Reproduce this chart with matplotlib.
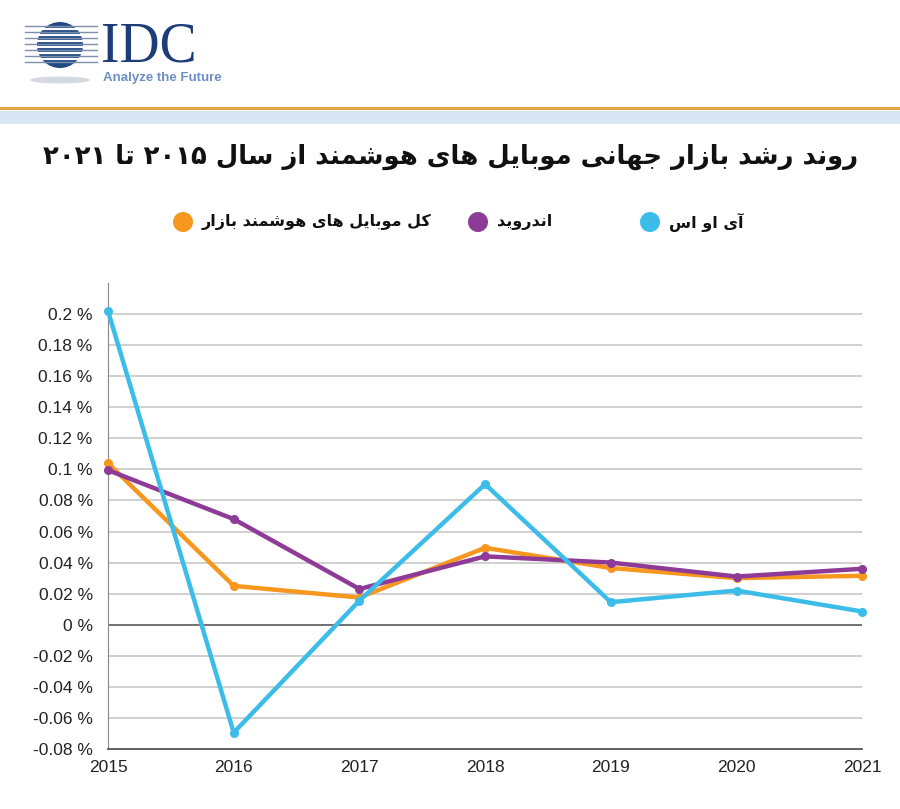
import re
import numpy as np
import matplotlib
matplotlib.use("Agg")
import matplotlib.pyplot as plt
from matplotlib.patches import Circle, Ellipse, Rectangle

years = [2015, 2016, 2017, 2018, 2019, 2020, 2021]
ios = [0.202, -0.0695, 0.0155, 0.0905, 0.0145, 0.022, 0.0085]
android = [0.0995, 0.068, 0.023, 0.044, 0.040, 0.031, 0.036]
total = [0.104, 0.025, 0.0175, 0.0495, 0.0365, 0.030, 0.0315]

title = "روند رشد بازار جهانی موبایل های هوشمند از سال ۲۰۱۵ تا ۲۰۲۱"
lbl_total = "کل موبایل های هوشمند بازار"
lbl_android = "اندروید"
lbl_ios = "آی او اس"

c_ios = "#3cbde9"
c_android = "#8e3a97"
c_total = "#f7971e"

# minimal persian shaping: (isolated, final, initial, medial)
FORMS = {
    "ا": ("\uFE8D", "\uFE8E", None, None),
    "آ": ("\uFE81", "\uFE82", None, None),
    "ب": ("\uFE8F", "\uFE90", "\uFE91", "\uFE92"),
    "ت": ("\uFE95", "\uFE96", "\uFE97", "\uFE98"),
    "ج": ("\uFE9D", "\uFE9E", "\uFE9F", "\uFEA0"),
    "د": ("\uFEA9", "\uFEAA", None, None),
    "ر": ("\uFEAD", "\uFEAE", None, None),
    "ز": ("\uFEAF", "\uFEB0", None, None),
    "س": ("\uFEB1", "\uFEB2", "\uFEB3", "\uFEB4"),
    "ش": ("\uFEB5", "\uFEB6", "\uFEB7", "\uFEB8"),
    "ل": ("\uFEDD", "\uFEDE", "\uFEDF", "\uFEE0"),
    "م": ("\uFEE1", "\uFEE2", "\uFEE3", "\uFEE4"),
    "ن": ("\uFEE5", "\uFEE6", "\uFEE7", "\uFEE8"),
    "ه": ("\uFEE9", "\uFEEA", "\uFEEB", "\uFEEC"),
    "و": ("\uFEED", "\uFEEE", None, None),
    "ی": ("\uFBFC", "\uFBFD", "\uFBFE", "\uFBFF"),
    "ک": ("\uFB8E", "\uFB8F", "\uFB90", "\uFB91"),
}


def fa(s):
    out = []
    for i, c in enumerate(s):
        if c not in FORMS:
            out.append(c)
            continue
        iso, fin, ini, med = FORMS[c]
        prev = i > 0 and s[i - 1] in FORMS and FORMS[s[i - 1]][2] is not None
        nxt = i + 1 < len(s) and s[i + 1] in FORMS
        if ini is None:
            out.append(fin if prev else iso)
        elif prev and nxt:
            out.append(med)
        elif prev:
            out.append(fin)
        elif nxt:
            out.append(ini)
        else:
            out.append(iso)
    vis = "".join(out)[::-1]
    return re.sub(r"[\u06F0-\u06F90-9]+", lambda m: m.group(0)[::-1], vis)


fig = plt.figure(figsize=(9, 8.09), dpi=100)

# background / header drawn in pixel coordinates
bg = fig.add_axes([0, 0, 1, 1])
bg.set_xlim(0, 900)
bg.set_ylim(809, 0)
bg.axis("off")

bg.add_patch(Rectangle((0, 107), 900, 2.5, color="#e3a344", lw=0))
bg.add_patch(Rectangle((0, 110.5), 900, 13, color="#d9e6f4", lw=0))

# IDC logo
bg.add_patch(Ellipse((60, 80), 60, 7, color="#d5d9e2", lw=0))
for yy in np.arange(26, 66, 6):
    bg.plot([25, 97], [yy, yy], color="#7f8fab", lw=1.0)
bg.add_patch(Circle((60, 45), 23, color="#1f4a86", lw=0))
for yy in np.arange(29, 64, 6):
    bg.plot([38, 82], [yy, yy], color="white", lw=1.6)
bg.text(101, 61, "IDC", fontsize=40, family="Liberation Serif",
        color="#1c3d78", va="baseline", ha="left")
bg.text(103, 78, "Analyze the Future", fontsize=9.5, family="Liberation Sans",
        color="#6b8fc5", va="center", ha="left", fontweight="bold")

bg.text(451, 157, fa(title), fontsize=18.6, family="DejaVu Sans", fontweight="bold",
        color="#111111", ha="center", va="center")

legend_items = [(183, lbl_total, c_total), (478, lbl_android, c_android),
                (650, lbl_ios, c_ios)]
for cx, lbl, col in legend_items:
    bg.add_patch(Circle((cx, 222), 10, color=col, lw=0))
    bg.text(cx + 19, 222, fa(lbl), fontsize=11.5, family="DejaVu Sans",
            fontweight="bold", color="#111111", ha="left", va="center")

# chart
ax = fig.add_axes([0.12, 0.0742, 0.838, 0.576])
ax.plot(years, total, color=c_total, lw=3.2, marker="o", ms=5.5, clip_on=False, zorder=3)
ax.plot(years, android, color=c_android, lw=3.2, marker="o", ms=5.5, clip_on=False, zorder=4)
ax.plot(years, ios, color=c_ios, lw=3.2, marker="o", ms=5.5, clip_on=False, zorder=5)

ticks = np.round(np.arange(-0.08, 0.201, 0.02), 2)
ax.set_yticks(ticks)
ax.set_yticklabels([f"{t + 0.0:g} %" for t in ticks], family="Liberation Sans",
                   fontsize=12.5, color="#222222")
ax.set_xticks(years)
ax.set_xticklabels([str(y) for y in years], family="Liberation Sans",
                   fontsize=12.5, color="#222222")
ax.set_ylim(-0.08, 0.22)
ax.set_xlim(2015, 2021)
for t in ticks:
    if t == 0:
        ax.axhline(0, color="#666666", lw=1.3, zorder=1)
    elif t > -0.08:
        ax.axhline(t, color="#c8c8c8", lw=1.2, zorder=1)
ax.tick_params(axis="y", length=0, pad=11)
ax.tick_params(axis="x", length=0, pad=8)
ax.spines["top"].set_visible(False)
ax.spines["right"].set_visible(False)
ax.spines["left"].set_color("#888888")
ax.spines["bottom"].set_color("#555555")
ax.spines["bottom"].set_linewidth(1.3)
ax.patch.set_alpha(0)

fig.savefig("out.png", dpi=100)
